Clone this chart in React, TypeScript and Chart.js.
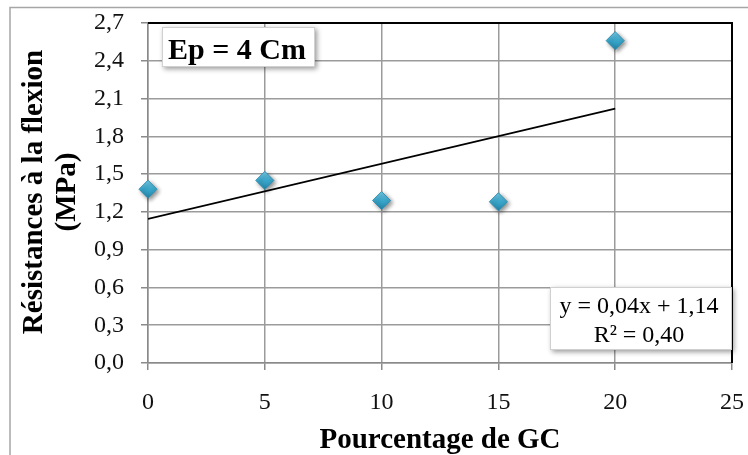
import React, { useEffect, useRef } from "react";
import { Chart, registerables } from "chart.js";

Chart.register(...registerables);

// Pourcentage de GC (%)
const GC_PERCENT = [0, 5, 10, 15, 20];
// Résistance à la flexion (MPa), Ep = 4 cm
const FLEXION_MPA = [1.38, 1.45, 1.29, 1.28, 2.56];

// Linear trend (least squares) and its coefficient of determination
const TREND_SLOPE = 0.0438;
const TREND_INTERCEPT = 1.144;
const TREND_R2 = 0.40;

const X_TICKS = [0, 5, 10, 15, 20, 25];
const Y_TICKS = [0, 0.3, 0.6, 0.9, 1.2, 1.5, 1.8, 2.1, 2.4, 2.7];

const BOX_LABEL = "Ep = 4 Cm";
const X_TITLE = "Pourcentage de GC";
const Y_TITLE_1 = "Résistances à la flexion";
const Y_TITLE_2 = "(MPa)";

const SERIF = "'Liberation Serif', 'Times New Roman', serif";

const fmt = (v: number, d: number) => v.toFixed(d).replace(".", ",");

const zeroPadding = (s: any) => {
  s.paddingTop = 0;
  s.paddingBottom = 0;
  s.paddingLeft = 0;
  s.paddingRight = 0;
};

const decorations = {
  id: "decorations",
  beforeDatasetDraw(chart: any, args: any) {
    if (args.index === 1) {
      const ctx = chart.ctx;
      ctx.save();
      ctx.shadowColor = "rgba(0,0,0,0.45)";
      ctx.shadowBlur = 4;
      ctx.shadowOffsetX = 2;
      ctx.shadowOffsetY = 2;
    }
  },
  afterDatasetDraw(chart: any, args: any) {
    if (args.index === 1) chart.ctx.restore();
  },
  afterDraw(chart: any) {
    const ctx = chart.ctx;
    const a = chart.chartArea;
    ctx.save();

    // outer frame
    ctx.strokeStyle = "#a6a6a6";
    ctx.lineWidth = 1.5;
    ctx.beginPath();
    ctx.moveTo(10, 470);
    ctx.lineTo(10, 7.5);
    ctx.lineTo(760, 7.5);
    ctx.stroke();

    // top and right plot border
    ctx.strokeStyle = "#000";
    ctx.lineWidth = 2;
    ctx.beginPath();
    ctx.moveTo(a.left, a.top);
    ctx.lineTo(a.right, a.top);
    ctx.lineTo(a.right, a.bottom);
    ctx.stroke();

    // axis titles
    ctx.fillStyle = "#000";
    ctx.font = `bold 29px ${SERIF}`;
    ctx.textAlign = "center";
    ctx.textBaseline = "alphabetic";
    ctx.fillText(X_TITLE, (a.left + a.right) / 2, 448);

    ctx.save();
    ctx.translate(42, 192);
    ctx.rotate(-Math.PI / 2);
    ctx.fillText(Y_TITLE_1, 0, 0);
    ctx.restore();
    ctx.save();
    ctx.translate(75, 192);
    ctx.rotate(-Math.PI / 2);
    ctx.fillText(Y_TITLE_2, 0, 0);
    ctx.restore();

    // labelled boxes with drop shadow
    const box = (x: number, y: number, w: number, h: number) => {
      ctx.save();
      ctx.shadowColor = "rgba(0,0,0,0.4)";
      ctx.shadowBlur = 5;
      ctx.shadowOffsetX = 2;
      ctx.shadowOffsetY = 2;
      ctx.fillStyle = "#fff";
      ctx.fillRect(x, y, w, h);
      ctx.restore();
      ctx.strokeStyle = "#d0d0d0";
      ctx.lineWidth = 1;
      ctx.strokeRect(x + 0.5, y + 0.5, w - 1, h - 1);
    };

    box(162, 27, 153, 40);
    ctx.fillStyle = "#000";
    ctx.font = `bold 30px ${SERIF}`;
    ctx.fillText(BOX_LABEL, 237, 59);

    box(550, 287, 182, 63);
    ctx.fillStyle = "#000";
    ctx.font = `24px ${SERIF}`;
    ctx.fillText(`y = ${fmt(TREND_SLOPE, 2)}x + ${fmt(TREND_INTERCEPT, 2)}`, 639, 313);
    ctx.fillText(`R² = ${fmt(TREND_R2, 2)}`, 639, 342);

    ctx.restore();
  },
};

export default function App() {
  const ref = useRef<HTMLCanvasElement>(null);

  useEffect(() => {
    if (!ref.current) return;
    const xEnd = GC_PERCENT[GC_PERCENT.length - 1];
    const trend = [
      { x: GC_PERCENT[0], y: TREND_INTERCEPT + TREND_SLOPE * GC_PERCENT[0] },
      { x: xEnd, y: TREND_INTERCEPT + TREND_SLOPE * xEnd },
    ];
    const chart = new Chart(ref.current, {
      type: "scatter",
      data: {
        datasets: [
          {
            label: "Linéaire",
            data: trend,
            showLine: true,
            borderColor: "#000",
            borderWidth: 1.6,
            pointRadius: 0,
            order: 1,
          },
          {
            label: "Ep = 4 Cm",
            data: GC_PERCENT.map((x, i) => ({ x, y: FLEXION_MPA[i] })),
            clip: false,
            pointStyle: "rectRot",
            pointRadius: 9,
            pointHoverRadius: 9,
            borderWidth: 1,
            borderColor: "#2f8fb2",
            backgroundColor: (c: any) => {
              const ch = c.chart;
              const ys = ch.scales?.y;
              if (!ys || !c.parsed) return "#3fa9cc";
              const py = ys.getPixelForValue(c.parsed.y);
              if (!Number.isFinite(py)) return "#3fa9cc";
              const g = ch.ctx.createLinearGradient(0, py - 9, 0, py + 9);
              g.addColorStop(0, "#74cbe6");
              g.addColorStop(0.5, "#3aa8cc");
              g.addColorStop(1, "#2387ab");
              return g;
            },
            order: 0,
          },
        ],
      },
      options: {
        responsive: false,
        animation: false,
        events: [],
        layout: { padding: { top: 23, right: 16, left: 0, bottom: 0 } },
        plugins: { legend: { display: false }, tooltip: { enabled: false } },
        scales: {
          x: {
            type: "linear",
            min: 0,
            max: 25,
            afterBuildTicks: (s: any) => {
              s.ticks = X_TICKS.map((v) => ({ value: v }));
            },
            afterFit: (s: any) => {
              s.height = 92;
              zeroPadding(s);
            },
            ticks: {
              color: "#111",
              font: { family: SERIF, size: 24 },
              padding: 18,
              maxRotation: 0,
              callback: (v: any) => String(v),
            },
            grid: {
              color: "#9b9b9b",
              lineWidth: 1.5,
              tickLength: 7,
              tickColor: "#8a8a8a",
            },
            border: { color: "#8a8a8a", width: 1.5 },
          },
          y: {
            type: "linear",
            min: 0,
            max: 2.7,
            afterBuildTicks: (s: any) => {
              s.ticks = Y_TICKS.map((v) => ({ value: v }));
            },
            afterFit: (s: any) => {
              s.width = 148;
              zeroPadding(s);
            },
            ticks: {
              color: "#111",
              font: { family: SERIF, size: 24 },
              padding: 17,
              callback: (v: any) => fmt(Number(v), 1),
            },
            grid: {
              color: "#9b9b9b",
              lineWidth: 1.5,
              tickLength: 7,
              tickColor: "#8a8a8a",
            },
            border: { color: "#8a8a8a", width: 1.5 },
          },
        },
      },
      plugins: [decorations],
    });
    return () => chart.destroy();
  }, []);

  return (
    <div style={{ position: "fixed", left: 0, top: 0, width: 748, height: 455, background: "#fff" }}>
      <canvas ref={ref} width={748} height={455} style={{ display: "block" }} />
    </div>
  );
}
